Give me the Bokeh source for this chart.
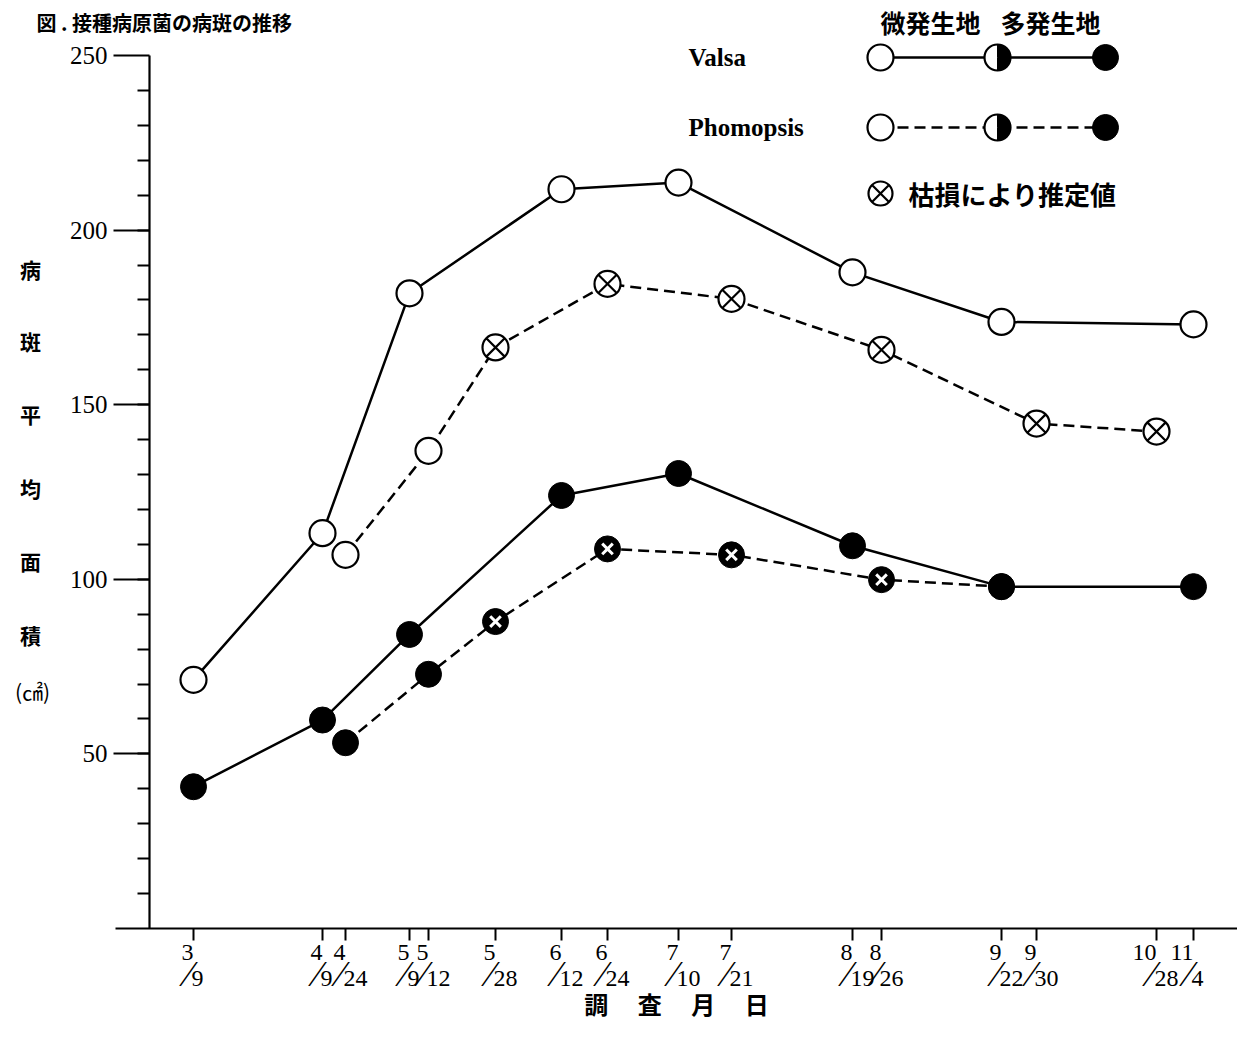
import math
from bokeh.plotting import figure
from bokeh.models import Range1d, FixedTicker, ColumnDataSource, LabelSet, Label
from bokeh.core.properties import value
from bokeh.embed import file_html
from bokeh.resources import INLINE

# ---------------- data ----------------
survey_dates = ["3/9", "4/9", "4/24", "5/9", "5/12", "5/28", "6/12", "6/24",
                "7/10", "7/21", "8/19", "8/26", "9/22", "9/30", "10/28", "11/4"]
# position of each survey date on the printed (non-uniform) date axis
date_pos = [44, 173, 196, 260, 279, 346, 412, 458,
            529, 582, 703, 732, 852, 887, 1007, 1044]

valsa_dates = ["3/9", "4/9", "5/9", "6/12", "7/10", "8/19", "9/22", "11/4"]
valsa_light = [71.2, 113.2, 181.9, 211.7, 213.6, 187.9, 173.7, 173.0]   # 微発生地
valsa_heavy = [40.6, 59.7, 84.2, 124.0, 130.3, 109.6, 97.9, 97.9]        # 多発生地

phomo_light_dates = ["4/24", "5/12", "5/28", "6/24", "7/21", "8/26", "9/30", "10/28"]
phomo_light = [107.0, 136.8, 166.4, 184.6, 180.3, 165.7, 144.6, 142.3]
phomo_light_est = [False, False, True, True, True, True, True, True]

phomo_heavy_dates = ["4/24", "5/12", "5/28", "6/24", "7/21", "8/26", "9/22"]
phomo_heavy = [53.2, 72.8, 87.9, 108.7, 107.0, 99.9, 97.9]
phomo_heavy_est = [False, False, True, True, True, True, False]

y_major = [50, 100, 150, 200, 250]
y_minor = list(range(10, 250, 10))

# ---------------- helpers ----------------
pos_of = dict(zip(survey_dates, date_pos))
def xs(dates):
    return [pos_of[d] for d in dates]

W, H = 1237, 1046
X0_PX, Y0_PX = 149, 928          # page pixel of the axes origin
PPU = (Y0_PX - 55) / 250.0       # pixels per y unit

def xpage(px):
    return px - X0_PX

def ypage(py):
    return (Y0_PX - py) / PPU

SERIF = "Liberation Serif"
CJK = "Noto Sans CJK JP"

p = figure(width=W, height=H, output_backend="svg", toolbar_location=None,
           x_range=Range1d(xpage(0), xpage(W)), y_range=Range1d(ypage(H), ypage(0)),
           min_border=0, min_border_left=0, min_border_right=0,
           min_border_top=0, min_border_bottom=0)
p.outline_line_color = None
p.xgrid.visible = False
p.ygrid.visible = False
p.background_fill_color = "white"
p.border_fill_color = "white"

# y axis
ya = p.yaxis[0]
ya.fixed_location = 0
ya.bounds = (0, 250)
ya.ticker = FixedTicker(ticks=y_major, minor_ticks=y_minor)
ya.axis_line_width = 2.2
ya.major_tick_line_width = 2.2
ya.minor_tick_line_width = 2.2
ya.major_tick_out = 36
ya.major_tick_in = 0
ya.minor_tick_out = 12
ya.minor_tick_in = 0
ya.major_label_standoff = 6
ya.major_label_text_font = SERIF
ya.major_label_text_font_size = "25px"
ya.major_label_text_color = "black"

# x axis
xa = p.xaxis[0]
xa.fixed_location = 0
xa.bounds = (xpage(115), xpage(W))
xa.ticker = FixedTicker(ticks=date_pos)
xa.major_label_overrides = {pos: "" for pos in date_pos}
xa.axis_line_width = 2.2
xa.major_tick_line_width = 2
xa.major_tick_out = 12
xa.major_tick_in = 0
xa.minor_tick_out = 0
xa.minor_tick_in = 0

LW = 2.5
DASH = "11 6"
MS = 26

# lines
p.line(xs(phomo_light_dates), phomo_light, line_color="black", line_width=LW, line_dash=DASH)
p.line(xs(phomo_heavy_dates), phomo_heavy, line_color="black", line_width=LW, line_dash=DASH)
p.line(xs(valsa_dates), valsa_light, line_color="black", line_width=LW)
p.line(xs(valsa_dates), valsa_heavy, line_color="black", line_width=LW)

def split(dates, vals, flags, want):
    return ([pos_of[d] for d, f in zip(dates, flags) if f == want],
            [v for v, f in zip(vals, flags) if f == want])

# Phomopsis markers
x0, y0 = split(phomo_light_dates, phomo_light, phomo_light_est, False)
p.scatter(x0, y0, marker="circle", size=MS, fill_color="white", line_color="black", line_width=2.2)
x1, y1 = split(phomo_light_dates, phomo_light, phomo_light_est, True)
p.scatter(x1, y1, marker="circle_x", size=MS, fill_color="white", line_color="black", line_width=2.2)
x2, y2 = split(phomo_heavy_dates, phomo_heavy, phomo_heavy_est, False)
p.scatter(x2, y2, marker="circle", size=MS, fill_color="black", line_color="black", line_width=1)
x3, y3 = split(phomo_heavy_dates, phomo_heavy, phomo_heavy_est, True)
p.scatter(x3, y3, marker="circle", size=MS, fill_color="black", line_color="black", line_width=1)
p.scatter(x3, y3, marker="x", size=15, line_color="white", line_width=3)

# Valsa markers
p.scatter(xs(valsa_dates), valsa_light, marker="circle", size=MS, fill_color="white",
          line_color="black", line_width=2.2)
p.scatter(xs(valsa_dates), valsa_heavy, marker="circle", size=MS, fill_color="black",
          line_color="black", line_width=1)

# ---------------- x tick labels (stacked month / day) ----------------
months = [d.split("/")[0] for d in survey_dates]
days = [d.split("/")[1] for d in survey_dates]
tsrc = ColumnDataSource(dict(x=date_pos, m=months, d=days, s=["\u2044"] * len(date_pos)))
common = dict(text_font=value(SERIF), text_color="black", source=tsrc)
p.add_layout(LabelSet(x="x", y=ypage(959), text="m", x_offset=0, text_align="right",
                      text_baseline="alphabetic", text_font_size="24px", **common))
p.add_layout(LabelSet(x="x", y=ypage(985), text="s", x_offset=-5, text_align="center",
                      text_baseline="alphabetic", text_font_size="36px", **common))
p.add_layout(LabelSet(x="x", y=ypage(985), text="d", x_offset=-2, text_align="left",
                      text_baseline="alphabetic", text_font_size="24px", **common))

# x axis title
p.add_layout(Label(x=xpage(676), y=ypage(1003), text="調 　査 　月 　日", text_align="center",
                   text_baseline="middle", text_font=CJK, text_font_style="bold",
                   text_font_size="24px", text_color="black"))

# y axis title (vertical characters)
ychars = ["病", "斑", "平", "均", "面", "積"]
yrows = [268, 340, 413, 487, 560, 634]
for ch, r in zip(ychars, yrows):
    p.add_layout(Label(x=xpage(30), y=ypage(r), text=ch, text_align="center",
                       text_baseline="middle", text_font=CJK, text_font_style="bold",
                       text_font_size="21px", text_color="black"))
p.add_layout(Label(x=xpage(32), y=ypage(690), text="(㎠)", text_align="center",
                   text_baseline="middle", text_font=CJK, text_font_size="21px",
                   text_color="black"))

# title
p.add_layout(Label(x=xpage(36), y=ypage(22), text="図 .  接種病原菌の病斑の推移",
                   text_align="left", text_baseline="alphabetic", text_font=CJK,
                   text_font_style="bold", text_font_size="20px", text_color="black"))

# ---------------- legend ----------------
LX = [xpage(880), xpage(997), xpage(1105)]
ROW_V, ROW_P, ROW_E = ypage(57), ypage(127), ypage(193)

p.line([LX[0], LX[2]], [ROW_V, ROW_V], line_color="black", line_width=LW)
p.line([LX[0], LX[2]], [ROW_P, ROW_P], line_color="black", line_width=LW, line_dash=DASH)
for ry in (ROW_V, ROW_P):
    p.scatter([LX[0]], [ry], marker="circle", size=MS, fill_color="white", line_color="black", line_width=2.2)
    p.scatter([LX[1]], [ry], marker="circle", size=MS, fill_color="white", line_color="black", line_width=2.2)
    p.wedge([LX[1]], [ry], radius=MS / 2, radius_units="screen", start_angle=-math.pi / 2,
            end_angle=math.pi / 2, direction="anticlock", fill_color="black", line_color="black")
    p.scatter([LX[2]], [ry], marker="circle", size=MS, fill_color="black", line_color="black", line_width=1)
p.scatter([LX[0]], [ROW_E], marker="circle_x", size=24, fill_color="white", line_color="black", line_width=2.2)

p.add_layout(Label(x=xpage(688), y=ROW_V, text="Valsa", text_align="left", text_baseline="middle",
                   text_font=SERIF, text_font_style="bold", text_font_size="25px", text_color="black"))
p.add_layout(Label(x=xpage(688), y=ROW_P, text="Phomopsis", text_align="left", text_baseline="middle",
                   text_font=SERIF, text_font_style="bold", text_font_size="25px", text_color="black"))
p.add_layout(Label(x=xpage(930), y=ypage(21), text="微発生地", text_align="center", text_baseline="middle",
                   text_font=CJK, text_font_style="bold", text_font_size="25px", text_color="black"))
p.add_layout(Label(x=xpage(1050), y=ypage(21), text="多発生地", text_align="center", text_baseline="middle",
                   text_font=CJK, text_font_style="bold", text_font_size="25px", text_color="black"))
p.add_layout(Label(x=xpage(908), y=ROW_E, text="枯損により推定値", text_align="left", text_baseline="middle",
                   text_font=CJK, text_font_style="bold", text_font_size="26px", text_color="black"))

open("out.html", "w").write(file_html(p, INLINE))
